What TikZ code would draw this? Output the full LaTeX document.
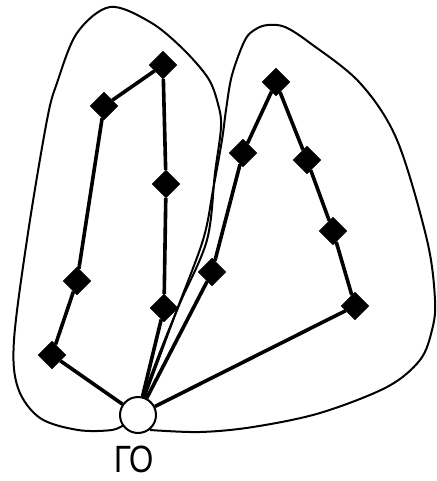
\documentclass[tikz,border=0pt]{standalone}
\usepackage{fontspec}
\setmainfont{Liberation Sans}
\usetikzlibrary{shapes.geometric}
\begin{document}
\begin{tikzpicture}[x=1pt,y=-1pt,
  stop/.style={diamond, fill=black, draw=black, minimum width=28pt, minimum height=28pt, inner sep=0pt},
  depot/.style={circle, draw=black, fill=white, line width=2pt, minimum size=36pt, inner sep=0pt},
  route/.style={line width=3.6pt, line join=round},
  zone/.style={line width=2pt, line join=round}]
\useasboundingbox (0,0) rectangle (436,481);
% zones
\draw[zone] plot[smooth, tension=0.55] coordinates {(138,410) (160,352) (180,303) (207,240) (215,173) (221,127) (218,104) (208,78) (182,48) (150,22) (110,7) (77,33) (57,83) (47,120) (28,233) (14,340) (18,388) (40,418) (78,430) (112,430) (125,424)};
\draw[zone] plot[smooth, tension=0.55] coordinates {(140,410) (175,315) (203,240) (213,190) (222,140) (226,110) (232,75) (245,40) (256,29) (268,25) (285,27) (310,43) (360,83) (397,140) (427,240) (435,300) (432,330) (420,360) (387,387) (320,413) (253,427) (200,432) (150,430)};
% depot
\node[depot] (dep) at (138,415) {};
\node[inner sep=0pt] (lbl) at (134,459) {\fontsize{38}{38}\selectfont\scalebox{0.82}[1]{ГО}};
% left route
\node[stop] (l1) at (52,355) {};
\node[stop] (l2) at (77,281) {};
\node[stop] (l3) at (104,106) {};
\node[stop] (l4) at (163,65) {};
\node[stop] (l5) at (166,184) {};
\node[stop] (l6) at (164,308) {};
% right route
\node[stop] (r1) at (212,272) {};
\node[stop] (r2) at (243,153) {};
\node[stop] (r3) at (276,82) {};
\node[stop] (r4) at (307,160) {};
\node[stop] (r5) at (333,231) {};
\node[stop] (r6) at (355,306) {};
\draw[route] (dep) -- (l1) -- (l2) -- (l3) -- (l4) -- (l5) -- (l6) -- (dep);
\draw[route] (dep) -- (r1) -- (r2) -- (r3) -- (r4) -- (r5) -- (r6) -- (dep);
\end{tikzpicture}
\end{document}
